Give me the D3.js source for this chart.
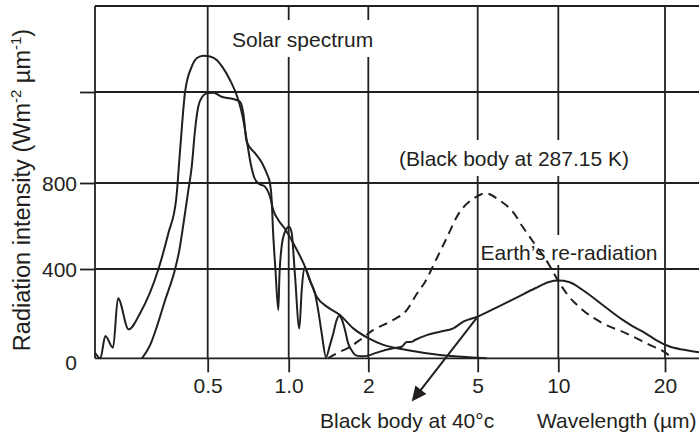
<!DOCTYPE html>
<html><head><meta charset="utf-8">
<script src="https://cdn.jsdelivr.net/npm/d3@7"></script>
<style>
html,body{margin:0;padding:0;background:#fff;}
svg{display:block;}
text{font-family:"Liberation Sans",Arial,Helvetica,sans-serif;fill:#231f20;}
</style></head><body>
<svg id="chart" width="699" height="433"></svg>
<script>
// ---------- data ----------
const xTickValues = [0.5, 1, 2, 5, 10, 20];
const xTickLabels = ["0.5", "1.0", "2", "5", "10", "20"];
const yTickValues = [0, 400, 800, 1200];
const yTickLabels = ["0", "400", "800", ""];

// Solar spectrum (outer curve, with jagged UV part), wavelength in µm, intensity W m-2 µm-1
const solarOuterWavelength = [0.19,0.199,0.2076,0.2218,0.2315,0.2535,0.2802,0.3276,0.3569,0.3812,0.3945,0.4117,0.436,0.456,0.4815,0.51,0.54,0.57,0.605,0.65,0.676,0.70,0.724,0.746,0.771,0.816,0.852,0.8765,0.915,0.969,1.041,1.1525,1.276,1.408,1.563,1.755,2.0,2.268,2.759,3.646,4.958,5.40];
const solarOuterIntensity  = [25,0,100,47,269,130,203,400,567,721,945,1200,1318,1358,1369,1365,1349,1312,1256,1165,1086,980,879,822,799,783,736,674,628,586,520,411,276,228,194,134,90,60,37,15,3,0];

// Solar spectrum at surface (inner curve with absorption bands)
const solarInnerWavelength = [0.2843,0.3052,0.3232,0.347,0.378,0.392,0.408,0.4235,0.436,0.4485,0.461,0.478,0.496,0.5245,0.5637,0.6225,0.659,0.678,0.698,0.7495,0.7957,0.828,0.852,0.8646,0.8743,0.893,0.915,0.924,0.940,0.969,1.003,1.025,1.056,1.097,1.12,1.1455,1.204,1.257,1.296,1.333,1.384,1.433,1.475,1.514,1.55,1.591,1.633,1.676,1.731,1.797,1.893,2.0];
const solarInnerIntensity  = [0,60,142,261,400,488,628,767,872,1033,1135,1180,1194,1197,1179,1169,1157,1108,982,931,888,843,799,721,581,395,216,373,498,573,597,572,373,134,306,405,346,291,207,112,5,60,112,167,191,172,127,69,35,13,9,12];

// Earth's re-radiation
const earthWavelength = [2.0,2.206,2.466,2.646,2.759,2.877,2.957,3.262,3.646,4.076,4.432,5.0,6.005,6.93,8.23,9.23,10.0,10.72,11.69,13.31,15.16,16.53,17.26,18.83,20.53,22.38,24.94];
const earthIntensity  = [12,30,45,52,73,74,82,104,119,134,164,187,233,270,315,342,348,342,307,240,173,136,121,83,54,39,27];

// Black body at 287.15 K (dashed)
const blackBodyWavelength = [1.408,1.519,1.705,1.86,2.086,2.466,2.759,3.0,3.216,3.497,3.825,4.275,4.847,5.356,6.005,6.832,7.337,8.114,9.152,9.863,10.58,11.69,13.31,15.49,18.03,20.09,20.97];
const blackBodyIntensity  = [0,22,51,82,127,172,216,288,342,433,535,660,729,752,721,659,599,521,428,358,288,218,158,113,61,24,1];

// arrow anchor: point on Earth's curve at 5 µm
const arrowAnchor = [5.0, 187];

// ---------- layout ----------
const ink = "#231f20";
const svg = d3.select("#chart");
const x = d3.scaleLog()
  .domain([0.19, 0.5, 1, 2, 5, 10, 20, 25])
  .range([95, 207.7, 288.7, 368.3, 477.7, 558.3, 665, 699.35]);
const y = d3.scaleLinear()
  .domain([0, 400, 800, 1200, 1600])
  .range([358.3, 269, 183, 92, 6]);
const plotLeft = x.range()[0], plotRight = 699;
const plotTop = y(1600), plotBase = y(0);

const gGrid = svg.append("g");
const gBox = svg.append("g");
const gCurves = svg.append("g");
const gText = svg.append("g");

// grid & frame
gGrid.selectAll("line.v").data(xTickValues).join("line")
  .attr("x1", d => x(d)).attr("x2", d => x(d))
  .attr("y1", plotTop).attr("y2", plotBase)
  .attr("stroke", ink).attr("stroke-width", 1.8);
gGrid.selectAll("line.h").data([400, 800, 1200]).join("line")
  .attr("x1", plotLeft).attr("x2", plotRight)
  .attr("y1", d => y(d)).attr("y2", d => y(d))
  .attr("stroke", ink).attr("stroke-width", 1.8);
gGrid.append("line").attr("x1", plotLeft).attr("x2", plotRight).attr("y1", plotTop).attr("y2", plotTop)
  .attr("stroke", ink).attr("stroke-width", 1.8);
gGrid.append("line").attr("x1", plotLeft).attr("x2", plotLeft).attr("y1", plotTop).attr("y2", plotBase)
  .attr("stroke", ink).attr("stroke-width", 1.8);
gGrid.append("line").attr("x1", plotLeft).attr("x2", plotRight).attr("y1", plotBase).attr("y2", plotBase)
  .attr("stroke", ink).attr("stroke-width", 1.8);

// axes
const xAxis = d3.axisBottom(x).tickValues(xTickValues)
  .tickFormat((d, i) => xTickLabels[i]).tickSize(14).tickPadding(6);
const gx = svg.append("g").attr("transform", `translate(0,${plotBase})`).call(xAxis);
gx.select(".domain").remove();
gx.selectAll(".tick line").attr("stroke", ink).attr("stroke-width", 1.8);
gx.selectAll(".tick text").attr("fill", ink).attr("font-size", 21)
  .attr("font-family", '"Liberation Sans",Arial,sans-serif')
  .attr("y", 34.7).attr("dy", 0);

const yAxis = d3.axisLeft(y).tickValues(yTickValues)
  .tickFormat((d, i) => yTickLabels[i]).tickSize(15).tickPadding(3);
const gy = svg.append("g").attr("transform", `translate(${plotLeft},0)`).call(yAxis);
gy.select(".domain").remove();
gy.selectAll(".tick line").attr("stroke", ink).attr("stroke-width", 1.8)
  .attr("display", d => d === 0 ? "none" : null);
gy.selectAll(".tick text").attr("fill", ink).attr("font-size", 21)
  .attr("font-family", '"Liberation Sans",Arial,sans-serif')
  .attr("dy", d => d === 0 ? "0.55em" : "0.36em");

// curves
const line = d3.line().x(d => x(d[0])).y(d => y(d[1])).curve(d3.curveMonotoneX);
const zip = (a, b) => a.map((v, i) => [v, b[i]]);
const series = [
  {data: zip(solarOuterWavelength, solarOuterIntensity), dash: null},
  {data: zip(solarInnerWavelength, solarInnerIntensity), dash: null},
  {data: zip(earthWavelength, earthIntensity), dash: null},
  {data: zip(blackBodyWavelength, blackBodyIntensity), dash: "9,6"}
];
gCurves.selectAll("path").data(series).join("path")
  .attr("d", d => line(d.data))
  .attr("fill", "none").attr("stroke", ink).attr("stroke-width", 2)
  .attr("stroke-linejoin", "round")
  .attr("stroke-dasharray", d => d.dash);

// arrow
const ax0 = x(arrowAnchor[0]), ay0 = y(arrowAnchor[1]);
const ax1 = ax0 - 66, ay1 = ay0 + 85;
const len = Math.hypot(ax1 - ax0, ay1 - ay0);
const ux = (ax1 - ax0) / len, uy = (ay1 - ay0) / len;
const hl = 15, hw = 7;
const bx = ax1 - ux * hl, by = ay1 - uy * hl;
gCurves.append("line").attr("x1", ax0).attr("y1", ay0).attr("x2", bx + ux * 2).attr("y2", by + uy * 2)
  .attr("stroke", ink).attr("stroke-width", 2);
gCurves.append("polygon")
  .attr("points", [[ax1, ay1], [bx - uy * hw, by + ux * hw], [bx + uy * hw, by - ux * hw]].map(p => p.join(",")).join(" "))
  .attr("fill", ink);

// annotations with white boxes
const labels = [
  {text: "Solar spectrum", x: 232, y: 47, padX: 7, padTop: 8, padBottom: 6},
  {text: "(Black body at 287.15 K)", x: 399, y: 166, padX: 6, padTop: 7, padBottom: 6},
  {text: "Earth\u2019s re-radiation", x: 480.5, y: 260, padX: 1.5, padTop: 6, padBottom: 1},
];
labels.forEach(l => {
  const t = gText.append("text").attr("x", l.x).attr("y", l.y).attr("font-size", 21).text(l.text);
  const b = t.node().getBBox();
  gBox.append("rect").attr("x", b.x - l.padX).attr("y", b.y - l.padTop)
    .attr("width", b.width + 2 * l.padX).attr("height", b.height + l.padTop + l.padBottom)
    .attr("fill", "#fff");
});
gText.append("text").attr("x", 320).attr("y", 428).attr("font-size", 21).text("Black body at 40\u00b0c");
gText.append("text").attr("x", 537).attr("y", 428).attr("font-size", 21).text("Wavelength (\u00b5m)");

// y-axis title
const yt = gText.append("text").attr("transform", "translate(30,190) rotate(-90)")
  .attr("text-anchor", "middle").attr("font-size", 23.5);
yt.append("tspan").text("Radiation intensity (Wm");
yt.append("tspan").attr("dy", -9).attr("font-size", 15).text("-2");
yt.append("tspan").attr("dy", 9).text(" \u00b5m");
yt.append("tspan").attr("dy", -9).attr("font-size", 15).text("-1");
yt.append("tspan").attr("dy", 9).text(")");
</script>
</body></html>
